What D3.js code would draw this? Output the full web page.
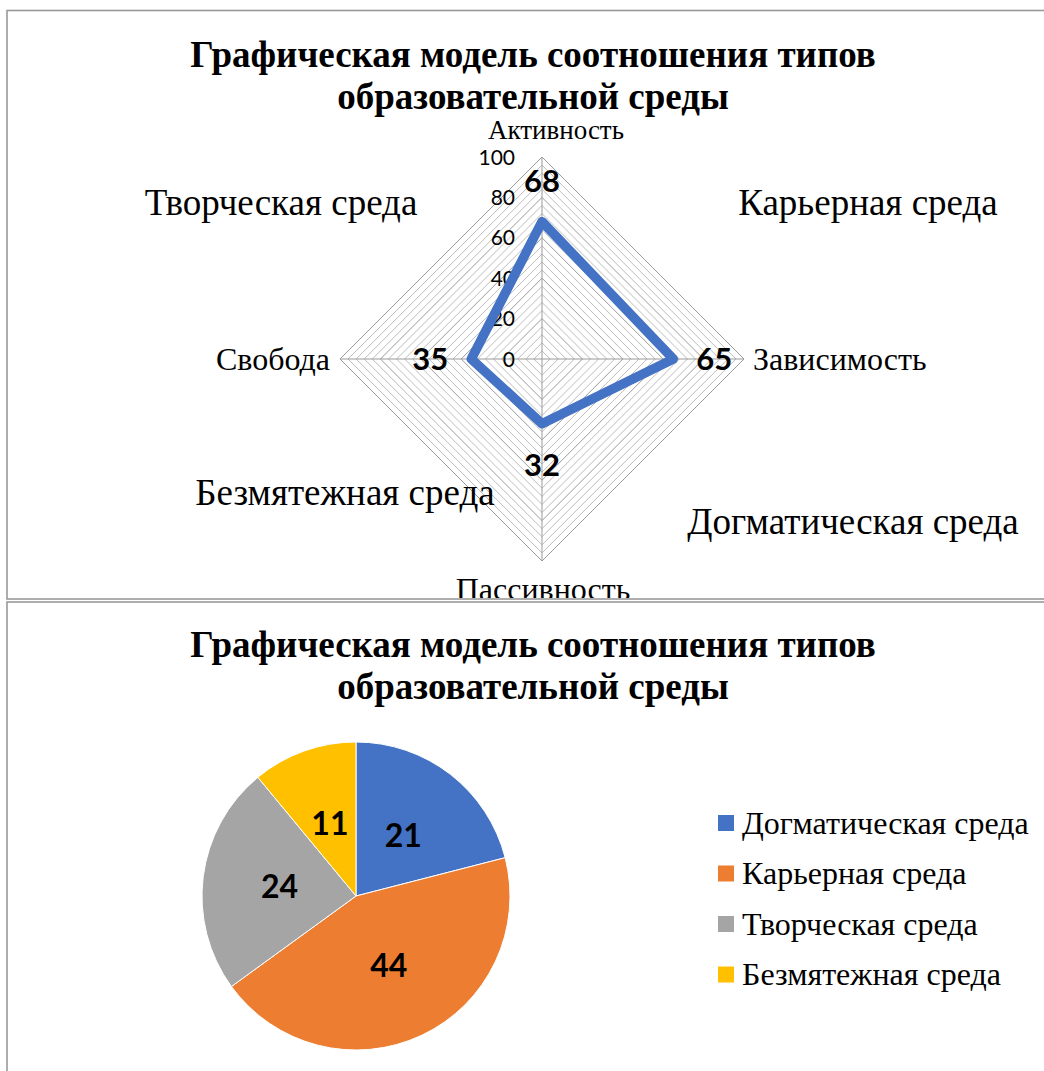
<!DOCTYPE html>
<html><head><meta charset="utf-8">
<script src="https://cdn.jsdelivr.net/npm/d3@7"></script>
<style>
html,body{margin:0;padding:0;background:#fff;}
svg{display:block;}
</style></head>
<body>
<svg id="c" width="1044" height="1071"></svg>
<script>
const titleLines = ["Графическая модель соотношения типов", "образовательной среды"];
const radarAxes = ["Активность", "Зависимость", "Пассивность", "Свобода"];
const radarValues = [68, 65, 32, 35];
const radarTicks = [0, 20, 40, 60, 80, 100];
const quadrantLabels = ["Карьерная среда", "Догматическая среда", "Безмятежная среда", "Творческая среда"];
const pieCategories = ["Догматическая среда", "Карьерная среда", "Творческая среда", "Безмятежная среда"];
const pieValues = [21, 44, 24, 11];
const pieColors = ["#4472C4", "#ED7D31", "#A5A5A5", "#FFC000"];

const svg = d3.select("#c");
svg.append("rect").attr("width",1044).attr("height",1071).attr("fill","#fff");

// Chart frames
svg.append("rect").attr("x",7).attr("y",10.5).attr("width",1060).attr("height",588.5)
  .attr("fill","#fff").attr("stroke","#999").attr("stroke-width",1.6);
svg.append("rect").attr("x",7).attr("y",602).attr("width",1060).attr("height",500)
  .attr("fill","#fff").attr("stroke","#999").attr("stroke-width",1.6);

svg.append("clipPath").attr("id","clip1").append("rect").attr("x",8).attr("y",11).attr("width",1040).attr("height",587);
const g1 = svg.append("g").attr("clip-path","url(#clip1)");

const serif = "'Liberation Serif','Times New Roman',serif";
const sans = "Lato,'Open Sans',sans-serif";

function drawTitle(g, y0) {
  const t = g.append("g");
  titleLines.forEach((s,i) => {
    t.append("text").attr("x",533).attr("y",y0 + i*42).attr("text-anchor","middle")
      .attr("font-family",serif).attr("font-weight","bold").attr("font-size",37)
      .attr("fill","#000").text(s);
  });
}
drawTitle(g1, 67);

// ---- Radar ----
const cx = 542, cy = 359;
const r = d3.scaleLinear().domain([0,100]).range([0,202]);
const ang = d => radarAxes.indexOf(d) * Math.PI/2;
const rg = g1.append("g").attr("transform",`translate(${cx},${cy})`);

const minorLevels = d3.range(0, 101, 4).filter(v => v > 0);
const ringLine = d3.lineRadial().angle(d => d.a).radius(d => d.r).curve(d3.curveLinearClosed);
minorLevels.forEach(v => {
  const major = v % 20 === 0;
  rg.append("path")
    .attr("d", ringLine(radarAxes.map(a => ({a: ang(a), r: r(v)}))))
    .attr("fill","none").attr("stroke", major ? "#9a9a9a" : "#bdbdbd").attr("stroke-width", 1);
});
radarAxes.forEach(a => {
  const t = ang(a);
  rg.append("line").attr("x1",0).attr("y1",0)
    .attr("x2", r(100)*Math.sin(t)).attr("y2", -r(100)*Math.cos(t))
    .attr("stroke","#9a9a9a").attr("stroke-width",1);
});

// tick labels
radarTicks.forEach(v => {
  rg.append("text").attr("x",-27).attr("y",-r(v)).attr("dy","0.36em").attr("text-anchor","end")
    .attr("font-family",sans).attr("font-size",21).attr("fill","#000").text(v);
});

// data polygon
const dataPts = radarAxes.map((a,i) => ({a: ang(a), r: r(radarValues[i])}));
rg.append("path").attr("d", ringLine(dataPts)).attr("fill","none")
  .attr("stroke","#4472C4").attr("stroke-width",9.5).attr("stroke-linejoin","round");

// data labels
radarAxes.forEach((a,i) => {
  const t = ang(a), rr = r(radarValues[i]) + 41;
  rg.append("text").attr("x", rr*Math.sin(t)).attr("y", -rr*Math.cos(t)).attr("dy","0.36em")
    .attr("text-anchor","middle").attr("font-family",sans).attr("font-weight","bold")
    .attr("font-size",31).attr("fill","#000").text(radarValues[i]);
});

// axis labels
const axisPos = [[556,139,"middle",27],[753,370,"start",32],[543,600,"middle",32],[330,370,"end",32]];
radarAxes.forEach((a,i) => {
  g1.append("text").attr("x",axisPos[i][0]).attr("y",axisPos[i][1]).attr("text-anchor",axisPos[i][2])
    .attr("font-family",serif).attr("font-size",axisPos[i][3]).attr("fill","#000").text(a);
});

// quadrant labels
const quadPos = [[868,215],[853,534],[345,505],[281,215]];
quadrantLabels.forEach((s,i) => {
  g1.append("text").attr("x",quadPos[i][0]).attr("y",quadPos[i][1]).attr("text-anchor","middle")
    .attr("font-family",serif).attr("font-size",37).attr("fill","#000").text(s);
});

// ---- Pie ----
const g2 = svg.append("g");
drawTitle(g2, 657);
const pcx = 356, pcy = 896, pr = 154;
const pie = d3.pie().sort(null).value(d => d)(pieValues);
const arc = d3.arc().innerRadius(0).outerRadius(pr);
const labelArc = d3.arc().innerRadius(pr*0.5).outerRadius(pr*0.5);
const pg = g2.append("g").attr("transform",`translate(${pcx},${pcy})`);
pg.selectAll("path").data(pie).join("path").attr("d",arc)
  .attr("fill",(d,i)=>pieColors[i]).attr("stroke","#fff").attr("stroke-width",1);
pg.selectAll("text").data(pie).join("text")
  .attr("transform",d=>`translate(${labelArc.centroid(d)})`).attr("dy","0.36em")
  .attr("text-anchor","middle").attr("font-family",sans).attr("font-weight","bold")
  .attr("font-size",32).attr("fill","#000").text(d=>d.data);

// legend
const leg = g2.append("g").attr("transform","translate(718,823)");
pieCategories.forEach((c,i) => {
  const row = leg.append("g").attr("transform",`translate(0,${i*50.5})`);
  row.append("rect").attr("x",0).attr("y",-8).attr("width",16).attr("height",16).attr("fill",pieColors[i]);
  row.append("text").attr("x",24).attr("y",0).attr("dy","0.33em")
    .attr("font-family",serif).attr("font-size",32).attr("fill","#000").text(c);
});
</script>
</body></html>
